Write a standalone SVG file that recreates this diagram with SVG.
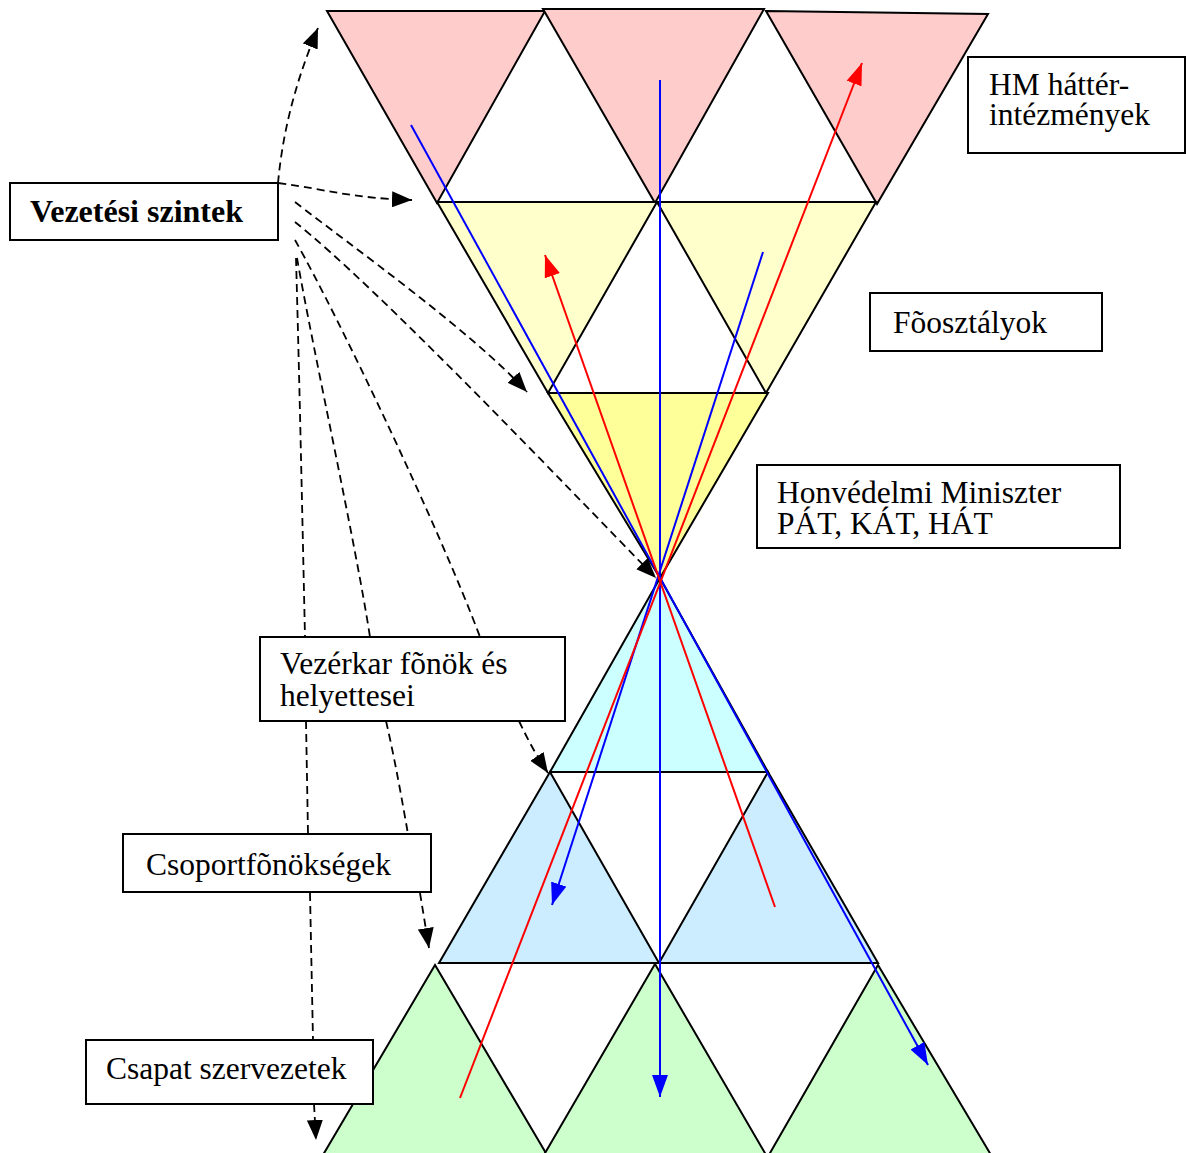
<svg xmlns="http://www.w3.org/2000/svg" width="1186" height="1153" viewBox="0 0 1186 1153">
<defs>
<style>
.tri{stroke:#000;stroke-width:2;stroke-linejoin:miter}
.pink{fill:#FFCCCC}.ly{fill:#FFFFCC}.yl{fill:#FFFF99}.cy{fill:#CCFFFF}.lb{fill:#CCECFF}.gr{fill:#CCFFCC}
.box{fill:#fff;stroke:#000;stroke-width:2}
.lbl{font-family:"Liberation Serif","Times New Roman",serif;font-size:31.5px;fill:#000}
.bold{font-weight:bold;font-size:32px}
.dash{fill:none;stroke:#000;stroke-width:1.8;stroke-dasharray:8 5}
.blue{fill:none;stroke:#0000FF;stroke-width:2}
.red{fill:none;stroke:#FF0000;stroke-width:2}
</style>
<marker id="ak" viewBox="0 0 20 16" refX="20" refY="8" markerWidth="20" markerHeight="16" markerUnits="userSpaceOnUse" orient="auto"><path d="M0,0 L20,8 L0,16 z" fill="#000"/></marker>
<marker id="ab" viewBox="0 0 22 16" refX="22" refY="8" markerWidth="22" markerHeight="16" markerUnits="userSpaceOnUse" orient="auto"><path d="M0,0 L22,8 L0,16 z" fill="#0000FF"/></marker>
<marker id="ar" viewBox="0 0 22 16" refX="22" refY="8" markerWidth="22" markerHeight="16" markerUnits="userSpaceOnUse" orient="auto"><path d="M0,0 L22,8 L0,16 z" fill="#FF0000"/></marker>
</defs>
<rect width="1186" height="1153" fill="#fff"/>
<g id="triangles">
<polygon id="t1" class="tri pink" points="327,11 545,11 437,203"/>
<polygon id="t2" class="tri pink" points="543,9 764,9 655,203"/>
<polygon id="t3" class="tri pink" points="766,11 988,14 877,204"/>
<polygon id="y1" class="tri ly" points="437,202 657,202 548,393"/>
<polygon id="y2" class="tri ly" points="657,202 876,202 766,393"/>
<polygon id="y3" class="tri yl" points="548,393 768,393 660,578"/>
<polygon id="c1" class="tri cy" points="660,578 550,772 768,772"/>
<polygon id="b1" class="tri lb" points="550,772 439,963 659,963"/>
<polygon id="b2" class="tri lb" points="768,772 659,963 878,963"/>
<polygon id="g1" class="tri gr" points="435,965 320,1160 550,1160"/>
<polygon id="g2" class="tri gr" points="655,964 541,1160 769,1160"/>
<polygon id="g3" class="tri gr" points="878,965 766,1160 994,1160"/>
</g>
<g id="flows">
<path class="blue" d="M411,125 L928,1065" marker-end="url(#ab)"/>
<path class="blue" d="M660,80 L660,1097" marker-end="url(#ab)"/>
<path class="blue" d="M763,252 L552,905" marker-end="url(#ab)"/>
<path class="red" d="M460,1098 L862,63" marker-end="url(#ar)"/>
<path class="red" d="M775,907 L545,255" marker-end="url(#ar)"/>
</g>
<g id="connectors">
<path class="dash" d="M278,183 C282,140 292,90 318,28" marker-end="url(#ak)"/>
<path class="dash" d="M278,183 C330,190 350,198 412,200" marker-end="url(#ak)"/>
<path class="dash" d="M295,202 C350,245 470,330 527,392" marker-end="url(#ak)"/>
<path class="dash" d="M295,222 C380,290 560,480 656,578" marker-end="url(#ak)"/>
<path class="dash" d="M295,240 C340,320 440,530 480,637"/>
<path class="dash" d="M519,721 C528,740 536,755 548,773" marker-end="url(#ak)"/>
<path class="dash" d="M297,258 C315,360 355,540 370,637"/>
<path class="dash" d="M386,721 C395,760 402,800 408,834"/>
<path class="dash" d="M420,893 L429,948" marker-end="url(#ak)"/>
<path class="dash" d="M296,258 C300,400 303,550 305,637"/>
<path class="dash" d="M306,721 L308,834"/>
<path class="dash" d="M310,893 L313,1040"/>
<path class="dash" d="M314,1104 L316,1140" marker-end="url(#ak)"/>
</g>
<g id="hm-hatter">
<rect class="box" x="968" y="57" width="217" height="96"/>
<text class="lbl" x="989" y="95">HM háttér-</text>
<text class="lbl" x="989" y="125">intézmények</text>
</g>
<g id="foosztalyok">
<rect class="box" x="870" y="293" width="232" height="58"/>
<text class="lbl" x="893" y="333">Fõosztályok</text>
</g>
<g id="miniszter">
<rect class="box" x="757" y="465" width="363" height="83"/>
<text class="lbl" x="777" y="503">Honvédelmi Miniszter</text>
<text class="lbl" x="777" y="534">PÁT, KÁT, HÁT</text>
</g>
<g id="vezetesi">
<rect class="box" x="10" y="183" width="268" height="57"/>
<text class="lbl bold" x="30" y="222">Vezetési szintek</text>
</g>
<g id="vezerkar">
<rect class="box" x="260" y="637" width="305" height="84"/>
<text class="lbl" x="280" y="674">Vezérkar fõnök és</text>
<text class="lbl" x="280" y="706">helyettesei</text>
</g>
<g id="csoport">
<rect class="box" x="123" y="834" width="308" height="58"/>
<text class="lbl" x="146" y="875">Csoportfõnökségek</text>
</g>
<g id="csapat">
<rect class="box" x="86" y="1040" width="287" height="64"/>
<text class="lbl" x="106" y="1079">Csapat szervezetek</text>
</g>
</svg>
